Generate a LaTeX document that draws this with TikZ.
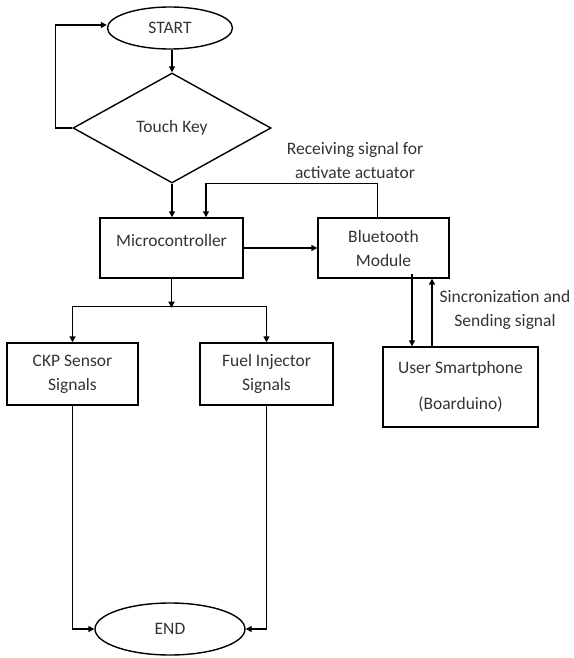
\documentclass[tikz,border=0pt]{standalone}
\usepackage{fontspec}
\setmainfont{Carlito}
\usetikzlibrary{shapes.geometric,arrows.meta}
\begin{document}
\begin{tikzpicture}[x=1pt,y=-1pt,line width=1.4pt,
		every node/.style={font=\fontsize{17.5}{24}\selectfont,text=black!80,align=center},
		arr/.style={-{Triangle[length=6pt,width=6pt]}},
		oval/.style={draw,ellipse,inner sep=0pt},
		stepbox/.style={draw,rectangle,inner sep=0pt}]
			\useasboundingbox (0,0) rectangle (573,658);
			
			\node[oval,minimum width=125,minimum height=42] (start) at (170,28) {START};
			
			\node[draw,diamond,inner sep=0pt,minimum width=198,minimum height=110] (key) at (172,128) {Touch Key};
			
			\node[stepbox,minimum width=143,minimum height=60] (micro) at (171.5,248) {Microcontroller\\[-8pt]~};
			
			\node[stepbox,minimum width=131,minimum height=60] (bt) at (383.5,248) {Bluetooth\\Module};
			
			\node[stepbox,minimum width=155,minimum height=80] (phone) at (460.5,387) {User Smartphone\\[12pt](Boarduino)};
			
			\node[stepbox,minimum width=131,minimum height=62] (ckp) at (72.5,374) {CKP Sensor\\Signals};
			
			\node[stepbox,minimum width=133,minimum height=62] (fuel) at (266.5,374) {Fuel Injector\\Signals};
			
			\node[oval,minimum width=150,minimum height=52] (end) at (170,629) {END};
			
			\node (recv) at (355,160) {Receiving signal for\\activate actuator};
			
			\node (sync) at (505,310) {Sincronization and\\Sending signal};
			
			\draw[arr] (key.north |- start.south) -- (key.north);
			
			\draw[arr] (key.west) -- ++(-17,0) |- ([yshift=3]start.west);
			
			\draw[arr] (key.south) -- (key.south |- micro.north);
			
			\draw[arr] ([xshift=-6]bt.north) -- ++(0,-34) -| ([xshift=34.5]micro.north);
			
			\draw[arr] (micro.east) -- (bt.west);
			
			\draw[arr] (micro.south) -- ++(0,29) coordinate (split);
			
			\draw[arr] ([yshift=1]split) -| (ckp.north);
			
			\draw[arr] ([yshift=1]split) -| (fuel.north);
			
			\draw[arr] ([xshift=28.5,yshift=5]bt.south) -- ([xshift=-48.5]phone.north);
			
			\draw[arr] ([xshift=-28.5]phone.north) -- ([xshift=48.5]bt.south);
			
			\draw[arr] (ckp.south) |- (end.west);
			
			\draw[arr] (fuel.south) |- (end.east);
	
		\end{tikzpicture}
\end{document}
